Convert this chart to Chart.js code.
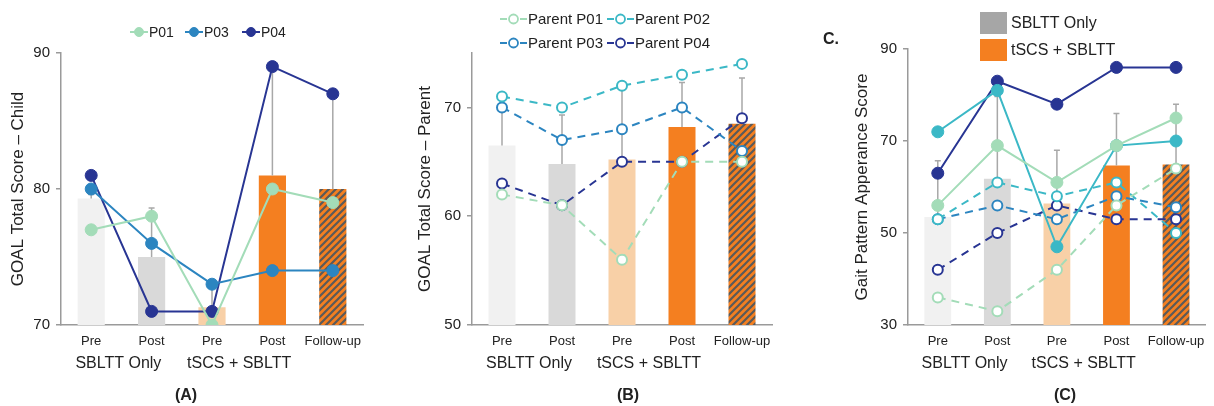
<!DOCTYPE html>
<html>
<head>
<meta charset="utf-8">
<script src="https://cdn.jsdelivr.net/npm/chart.js@4.4.1/dist/chart.umd.min.js"></script>
<style>
  body { margin: 0; background: #fff; font-family: "Liberation Sans", Arial, sans-serif; color: #222; }
  #wrap { position: relative; width: 1214px; height: 406px; overflow: hidden; }
  canvas { position: absolute; top: 0; }
  .leg { position: absolute; display: flex; align-items: center; font-size: 15px; white-space: nowrap; }
  .leg svg { display: block; margin-right: 1px; }
  .sq { width: 27px; height: 22px; margin-right: 4px; }
</style>
</head>
<body>
<div id="wrap">
  <canvas id="chartA" width="400" height="406" style="left:0px"></canvas>
  <canvas id="chartB" width="400" height="406" style="left:400px"></canvas>
  <canvas id="chartC" width="414" height="406" style="left:800px"></canvas>
  <div class="leg" style="left:823px;top:30px;font-weight:bold;font-size:16px">C.</div>
</div>
<script>
// categories / groups
var categories = ['Pre', 'Post', 'Pre', 'Post', 'Follow-up'];
var groupLabels = ['SBLTT Only', 'tSCS + SBLTT'];

// (A) child GOAL
var childMean = [79.3, 75, 71.3, 81, 80];
var childErr = [79.6, 78.6, 72.7, 89, 87];
var childP01 = [77, 78, 70, 80, 79];
var childP03 = [80, 76, 73, 74, 74];
var childP04 = [81, 71, 71, 89, 87];
var childTicks = [70, 80, 90];

// (B) parent GOAL
var parentMean = [66.5, 64.8, 65.2, 68.2, 68.5];
var parentErr = [70, 69.3, 71.7, 72.3, 72.7];
var parentP01 = [62, 61, 56, 65, 65];
var parentP02 = [71, 70, 72, 73, 74];
var parentP03 = [70, 67, 68, 70, 66];
var parentP04 = [63, 61, 65, 65, 69];
var parentTicks = [50, 60, 70];

// (C) gait pattern appearance
var gaitMean = [53.5, 61.8, 56.4, 64.7, 64.9];
var gaitErr = [65.7, 79.7, 68, 76, 78];
var gaitChildP01 = [56, 69, 61, 69, 75];
var gaitChildP02 = [72, 81, 47, 69, 70];
var gaitChildP04 = [63, 83, 78, 86, 86];
var gaitParentP01 = [36, 33, 42, 56, 64];
var gaitParentP02 = [53, 61, 58, 61, 50];
var gaitParentP03 = [53, 56, 53, 58, 55.6];
var gaitParentP04 = [42, 50, 56, 53, 53];
var gaitTicks = [30, 50, 70, 90];

var GREEN = '#a3dcb8', TEAL = '#3bb8c6', BLUE = '#2c85c0', NAVY = '#283593';
var FONT = '"Liberation Sans", Arial, sans-serif';

/* hatched orange for follow-up */
function hatch() {
  var c = document.createElement('canvas');
  c.width = 7; c.height = 7;
  var x = c.getContext('2d');
  x.fillStyle = '#f47f20';
  x.fillRect(0, 0, 7, 7);
  x.strokeStyle = '#5a5a5a';
  x.lineWidth = 2.2;
  x.beginPath();
  x.moveTo(-1, 8); x.lineTo(8, -1);
  x.moveTo(-1, 1); x.lineTo(1, -1);
  x.moveTo(6, 8); x.lineTo(8, 6);
  x.stroke();
  return x.createPattern(c, 'repeat');
}
var barColors = ['#f1f1f1', '#d9d9d9', '#f8d0a7', '#f47f20', hatch()];

var extras = {
  id: 'extras',
  afterDatasetDraw: function (chart, args) {
    if (args.index !== 0) return;
    var o = chart.options.plugins.extras;
    var ctx = chart.ctx, xs = chart.scales.x, ys = chart.scales.y;
    ctx.save();
    ctx.strokeStyle = '#a8a8a8';
    ctx.lineWidth = 1.5;
    o.mean.forEach(function (m, i) {
      var px = xs.getPixelForValue(i);
      var y0 = ys.getPixelForValue(m), y1 = ys.getPixelForValue(o.err[i]);
      ctx.beginPath();
      ctx.moveTo(px, y0); ctx.lineTo(px, y1);
      ctx.moveTo(px - 3, y1); ctx.lineTo(px + 3, y1);
      ctx.stroke();
    });
    ctx.restore();
  },
  afterDraw: function (chart) {
    var o = chart.options.plugins.extras;
    var ctx = chart.ctx, xs = chart.scales.x;
    ctx.save();
    ctx.fillStyle = '#222';
    ctx.textAlign = 'center';
    ctx.textBaseline = 'middle';
    ctx.font = '16px ' + FONT;
    groupLabels.forEach(function (g, k) {
      var a = xs.getPixelForValue(k * 2), b = xs.getPixelForValue(k * 2 + 1);
      ctx.fillText(g, (a + b) / 2 - 3, 364);
    });
    ctx.font = 'bold 16px ' + FONT;
    ctx.fillText(o.caption, o.captionX, 396);
    ctx.restore();
  }
};

function lineSet(label, data, color, dashed) {
  return {
    type: 'line', label: label, data: data,
    borderColor: color, backgroundColor: color,
    borderWidth: 2, borderDash: dashed ? [8, 6] : [],
    pointRadius: dashed ? 5 : 6, pointHoverRadius: 6,
    pointBorderWidth: dashed ? 2 : 1,
    pointBorderColor: color,
    pointBackgroundColor: dashed ? '#fff' : color,
    tension: 0, fill: false, order: 1
  };
}

function makePanel(id, p) {
  var sets = [{
    type: 'bar', data: p.mean, backgroundColor: barColors,
    barPercentage: 0.45, categoryPercentage: 1, order: 10
  }].concat(p.series);
  return new Chart(document.getElementById(id), {
    data: { labels: categories, datasets: sets },
    plugins: [extras],
    options: {
      responsive: false, animation: false, devicePixelRatio: 1,
      layout: { padding: p.pad },
      plugins: {
        legend: { display: false }, tooltip: { enabled: false },
        extras: { mean: p.mean, err: p.err, caption: p.caption, captionX: p.captionX }
      },
      scales: {
        x: {
          grid: { display: false, drawTicks: false },
          border: { display: true, color: '#9a9a9a', width: 1.5 },
          ticks: { color: '#222', font: { size: 13, family: FONT }, padding: 9, maxRotation: 0, autoSkip: false },
          afterFit: function (s) { s.height = 406 - p.bottom; }
        },
        y: {
          min: p.min, max: p.max,
          ticks: { stepSize: 10, color: '#222', font: { size: 15, family: FONT }, padding: 6 },
          afterBuildTicks: function (s) {
            s.ticks = s.ticks.filter(function (t) { return p.ticks.indexOf(t.value) >= 0; });
          },
          grid: { display: true, drawOnChartArea: false, drawTicks: true, tickLength: 5, color: '#9a9a9a', lineWidth: 1.5 },
          border: { display: true, color: '#9a9a9a', width: 1.5 },
          title: { display: true, text: p.title, color: '#222', font: { size: 17, family: FONT }, padding: { top: 4, bottom: 0 } },
          afterFit: function (s) { s.width = p.yWidth; }
        }
      }
    }
  });
}

makePanel('chartA', {
  mean: childMean, err: childErr, min: 70, max: 90, ticks: childTicks,
  title: 'GOAL Total Score \u2013 Child',
  pad: { left: 4, top: 53, right: 37, bottom: 0 }, yWidth: 57, bottom: 325,
  caption: '(A)', captionX: 186,
  series: [
    lineSet('P01', childP01, GREEN, false),
    lineSet('P03', childP03, BLUE, false),
    lineSet('P04', childP04, NAVY, false)
  ]
});

makePanel('chartB', {
  mean: parentMean, err: parentErr, min: 50, max: 75, ticks: parentTicks,
  title: 'GOAL Total Score \u2013 Parent',
  pad: { left: 11, top: 53, right: 28, bottom: 0 }, yWidth: 61, bottom: 325,
  caption: '(B)', captionX: 228,
  series: [
    lineSet('Parent P01', parentP01, GREEN, true),
    lineSet('Parent P02', parentP02, TEAL, true),
    lineSet('Parent P03', parentP03, BLUE, true),
    lineSet('Parent P04', parentP04, NAVY, true)
  ]
});

makePanel('chartC', {
  mean: gaitMean, err: gaitErr, min: 30, max: 90, ticks: gaitTicks,
  title: 'Gait Pattern Apperance Score',
  pad: { left: 48, top: 49, right: 5, bottom: 0 }, yWidth: 60, bottom: 325,
  caption: '(C)', captionX: 265,
  series: [
    lineSet('Child P01', gaitChildP01, GREEN, false),
    lineSet('Child P02', gaitChildP02, TEAL, false),
    lineSet('Child P04', gaitChildP04, NAVY, false),
    lineSet('Parent P01', gaitParentP01, GREEN, true),
    lineSet('Parent P02', gaitParentP02, TEAL, true),
    lineSet('Parent P03', gaitParentP03, BLUE, true),
    lineSet('Parent P04', gaitParentP04, NAVY, true)
  ]
});

/* legends */
var wrap = document.getElementById('wrap');
function marker(color, dashed, w) {
  var fill = dashed ? '#fff' : color;
  var line = dashed
    ? '<line x1="0" y1="7" x2="7" y2="7" stroke="' + color + '" stroke-width="2"/><line x1="' + (w - 7) + '" y1="7" x2="' + w + '" y2="7" stroke="' + color + '" stroke-width="2"/>'
    : '<line x1="0" y1="7" x2="' + w + '" y2="7" stroke="' + color + '" stroke-width="2"/>';
  return '<svg width="' + w + '" height="14">' + line +
    '<circle cx="' + (w / 2) + '" cy="7" r="4.5" fill="' + fill + '" stroke="' + color + '" stroke-width="' + (dashed ? 1.8 : 1) + '"/></svg>';
}
function addLegend(x, y, html, size) {
  var d = document.createElement('div');
  d.className = 'leg';
  d.style.left = x + 'px';
  d.style.top = (y - 9) + 'px';
  if (size) d.style.fontSize = size + 'px';
  d.innerHTML = html;
  wrap.appendChild(d);
}
var legA = [['P01', GREEN, 130], ['P03', BLUE, 185], ['P04', NAVY, 242]];
legA.forEach(function (l) { addLegend(l[2], 33, marker(l[1], false, 18) + '<span>' + l[0] + '</span>', 14); });

var legB = [['Parent P01', GREEN, 500, 19], ['Parent P02', TEAL, 607, 19], ['Parent P03', BLUE, 500, 43], ['Parent P04', NAVY, 607, 43]];
legB.forEach(function (l) { addLegend(l[2], l[3], marker(l[1], true, 27) + '<span>' + l[0] + '</span>'); });

addLegend(980, 21, '<div class="sq" style="background:#a6a6a6"></div><span>SBLTT Only</span>', 16);
addLegend(980, 48, '<div class="sq" style="background:#f47f20"></div><span>tSCS + SBLTT</span>', 16);
</script>
</body>
</html>
